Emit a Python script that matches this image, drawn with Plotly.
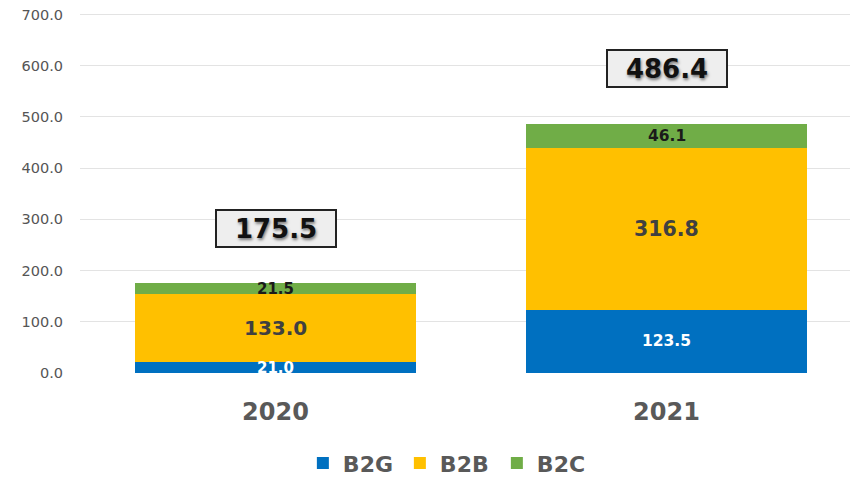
import plotly.graph_objects as go

years = ["2020", "2021"]
b2g = [21.0, 123.5]
b2b = [133.0, 316.8]
b2c = [21.5, 46.1]
totals = [175.5, 486.4]
y_ticks = [0, 100, 200, 300, 400, 500, 600, 700]

series = [
    ("B2G", b2g, "#0070C0"),
    ("B2B", b2b, "#FFC000"),
    ("B2C", b2c, "#70AD47"),
]

FONT = "DejaVu Sans"

fig = go.Figure()
for name, vals, color in series:
    fig.add_trace(go.Bar(
        x=list(range(len(years))), y=vals, name=name, marker_color=color,
        marker_line_width=0, width=0.72, hoverinfo="skip",
    ))

# segment labels
label_styles = {
    "B2G": [dict(size=15, color="white"), dict(size=15.5, color="white")],
    "B2B": [dict(size=20, color="#404040"), dict(size=20.5, color="#404040")],
    "B2C": [dict(size=15, color="#1a1a1a"), dict(size=15.5, color="#1a1a1a")],
}
base = [0.0, 0.0]
for name, vals, color in series:
    for i, v in enumerate(vals):
        st = label_styles[name][i]
        fig.add_annotation(
            x=i, y=base[i] + v / 2, text=f"{v:.1f}", showarrow=False,
            font=dict(family=FONT, size=st["size"], color=st["color"], weight="bold"),
        )
        base[i] += v

# total boxes
for i, t in enumerate(totals):
    fig.add_annotation(
        x=i, y=t, yshift=55, text=f"{t:.1f}", showarrow=False,
        font=dict(family=FONT, size=26, color="#111111", weight="bold",
                  shadow="1px 2px 3px #777777"),
        bgcolor="#eeeeee", bordercolor="#222222", borderwidth=2, borderpad=1,
        width=116, height=33,
    )

fig.update_layout(
    width=858, height=479,
    margin=dict(l=72, r=4, t=4, b=114, autoexpand=False),
    paper_bgcolor="white", plot_bgcolor="white",
    barmode="stack",
    showlegend=True,
    legend=dict(
        orientation="h", x=0.285, xanchor="left", y=-0.25, yanchor="middle",
        font=dict(family=FONT, size=22, color="#595959", weight="bold"),
        traceorder="normal", itemwidth=30, entrywidth=52, entrywidthmode="pixels",
    ),
    xaxis=dict(
        range=[-0.5, 1.5], tickvals=list(range(len(years))), ticktext=years,
        showgrid=False, zeroline=False, showline=False, ticks="",
        tickfont=dict(family=FONT, size=24, color="#595959", weight="bold"),
        ticklabelstandoff=22,
    ),
    yaxis=dict(
        range=[0, 705], tickvals=y_ticks, ticktext=[f"{v:.1f}" for v in y_ticks],
        showgrid=True, gridcolor="#e3e3e3", gridwidth=1, zeroline=False,
        showline=False, ticks="", ticklabeloverflow="allow",
        tickfont=dict(family=FONT, size=14.5, color="#555555"),
        ticklabelstandoff=16,
    ),
)

fig.write_html("out.html")
